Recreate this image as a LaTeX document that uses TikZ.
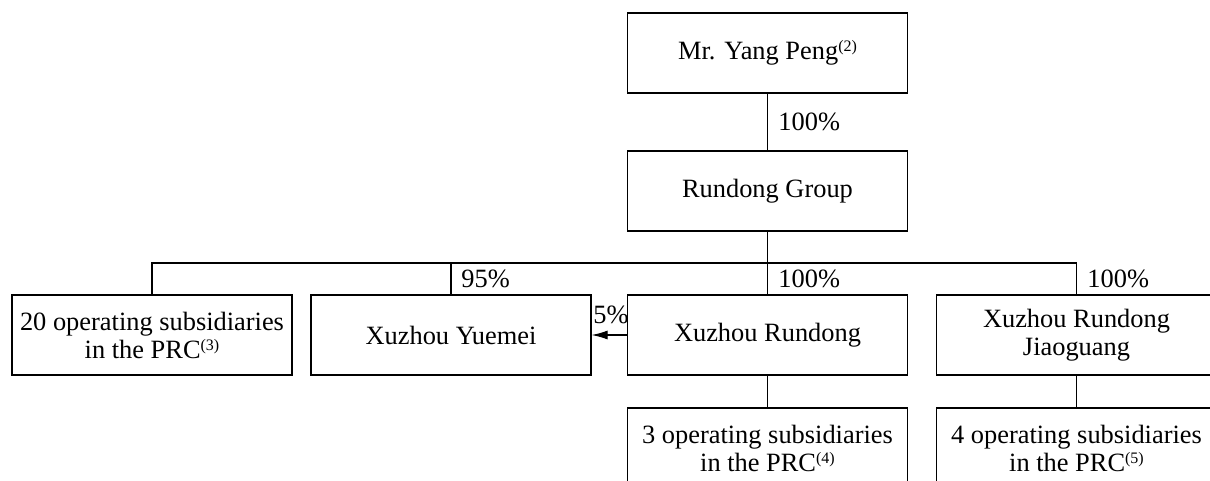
\documentclass[tikz,border=0pt]{standalone}
\usepackage{fontspec}
\setmainfont{Liberation Serif}
\usetikzlibrary{arrows.meta}
\newcommand{\fnref}[1]{\raisebox{0.62ex}{\fontsize{8}{8}\selectfont(#1)}}
\begin{document}
\begin{tikzpicture}[x=0.5pt,y=-0.5pt,
  box/.style={draw, line width=0.6pt, minimum width=140pt, minimum height=40pt,
    inner sep=0pt, align=center, font=\fontsize{13.2}{14}\selectfont},
  pct/.style={font=\fontsize{13.2}{14}\selectfont, inner sep=0pt, anchor=west},
  link/.style={line width=0.6pt}]
\useasboundingbox (0,0) rectangle (1210,481);
\clip (0,0) rectangle (1210,481);
\fill[white] (0,0) rectangle (1210,481);
\node[box] (yang) at (767.5,53) {Mr. Yang Peng\fnref{2}};
\node[box] (group) at (767.5,191) {Rundong Group};
\node[box] (sub20) at (152,335) {20 operating subsidiaries\\in the PRC\fnref{3}};
\node[box] (yuemei) at (451,335) {Xuzhou Yuemei};
\node[box] (xrd) at (767.5,335) {Xuzhou Rundong};
\node[box] (jiao) at (1076.5,335) {Xuzhou Rundong\\Jiaoguang};
\node[box] (sub3) at (767.5,448) {3 operating subsidiaries\\in the PRC\fnref{4}};
\node[box] (sub4) at (1076.5,448) {4 operating subsidiaries\\in the PRC\fnref{5}};
\coordinate (bus) at (767.5,263);
\draw[link] (yang.south) -- (group.north);
\draw[link] (group.south) -- (bus);
\draw[link] (sub20.north) |- (bus) -| (jiao.north);
\draw[link] (yuemei.north) -- (yuemei.north |- bus);
\draw[link] (bus) -- (xrd.north);
\draw[link] (xrd.south) -- (sub3.north);
\draw[link] (jiao.south) -- (sub4.north);
\draw[link, -{Latex[length=8pt,width=4.5pt]}] (xrd.west) -- (yuemei.east);
\node[pct] (p1) at (778,122) {100\%};
\node[pct] (p2) at (461,279) {95\%};
\node[pct] (p3) at (778,279) {100\%};
\node[pct] (p4) at (1087,279) {100\%};
\node[pct] (p5) at (593,315) {5\%};
\end{tikzpicture}
\end{document}
